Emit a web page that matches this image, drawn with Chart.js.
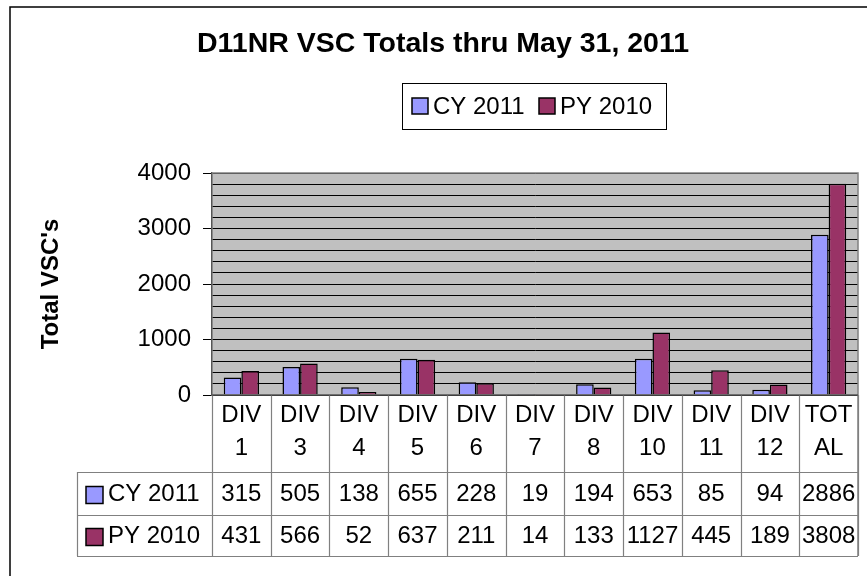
<!DOCTYPE html>
<html>
<head>
<meta charset="utf-8">
<script src="https://cdn.jsdelivr.net/npm/chart.js@4/dist/chart.umd.min.js"></script>
<style>
  body { margin: 0; background: #fff; }
  canvas { display: block; }
</style>
</head>
<body>
<canvas id="vsc" width="867" height="576"></canvas>
<script>
const categories = [['DIV', '1'], ['DIV', '3'], ['DIV', '4'], ['DIV', '5'], ['DIV', '6'], ['DIV', '7'],
  ['DIV', '8'], ['DIV', '10'], ['DIV', '11'], ['DIV', '12'], ['TOT', 'AL']]
const cy2011 = [315, 505, 138, 655, 228, 19, 194, 653, 85, 94, 2886]
const py2010 = [431, 566, 52, 637, 211, 14, 133, 1127, 445, 189, 3808]
const yTicks = [0, 1000, 2000, 3000, 4000]

const FONT = '"Liberation Sans", Arial, sans-serif'
const TABLE_LINE = '#808080'

// gray plot background
const backdrop = {
  id: 'backdrop',
  beforeDraw(chart) {
    const { ctx, chartArea: a } = chart
    ctx.save()
    ctx.fillStyle = '#fff'
    ctx.fillRect(0, 0, chart.width, chart.height)
    ctx.fillStyle = '#C0C0C0'
    ctx.fillRect(a.left, a.top, a.right - a.left, a.bottom - a.top)
    ctx.restore()
  }
}

// title, legend box and the data table under the axis
const extras = {
  id: 'extras',
  afterDraw(chart) {
    const { ctx, chartArea: a } = chart
    const x = chart.scales.x
    const sets = chart.data.datasets
    const colW = (a.right - a.left) / categories.length
    const rows = [a.bottom + 77, a.bottom + 120, a.bottom + 161]
    ctx.save()

    // outer frame (only left/top visible in the crop)
    ctx.strokeStyle = '#000'
    ctx.lineWidth = 1.5
    ctx.beginPath()
    ctx.moveTo(10, chart.height + 2)
    ctx.lineTo(10, 7)
    ctx.lineTo(chart.width + 2, 7)
    ctx.stroke()

    // title
    ctx.fillStyle = '#000'
    ctx.font = 'bold 28.5px ' + FONT
    ctx.textAlign = 'center'
    ctx.textBaseline = 'middle'
    ctx.fillText('D11NR VSC Totals thru May 31, 2011', 443, 44)

    // legend
    ctx.lineWidth = 1
    ctx.strokeStyle = '#000'
    ctx.strokeRect(402.5, 83.5, 264, 46)
    ctx.font = '24px ' + FONT
    ctx.textAlign = 'left'
    const legX = [412, 539]
    sets.forEach((ds, i) => {
      ctx.fillStyle = ds.backgroundColor
      ctx.fillRect(legX[i], 98, 16, 16)
      ctx.lineWidth = 1.5
      ctx.strokeRect(legX[i], 98, 16, 16)
      ctx.fillStyle = '#000'
      ctx.fillText(ds.label, legX[i] + 21, 107)
    })

    // plot frame top / right
    ctx.strokeStyle = TABLE_LINE
    ctx.lineWidth = 1.5
    ctx.beginPath()
    ctx.moveTo(a.left, a.top)
    ctx.lineTo(a.right, a.top)
    ctx.lineTo(a.right, rows[2])
    ctx.stroke()

    // table grid
    ctx.lineWidth = 1.2
    ctx.beginPath()
    for (let i = 0; i <= categories.length; i++) {
      const px = Math.round(a.left + i * colW) + 0.5
      ctx.moveTo(px, a.bottom)
      ctx.lineTo(px, rows[2])
    }
    rows.forEach(ry => {
      ctx.moveTo(77, ry + 0.5)
      ctx.lineTo(a.right, ry + 0.5)
    })
    ctx.moveTo(77.5, rows[0])
    ctx.lineTo(77.5, rows[2])
    ctx.stroke()

    // axis line on top of the table
    ctx.strokeStyle = '#555'
    ctx.lineWidth = 1.5
    ctx.beginPath()
    ctx.moveTo(a.left, a.bottom)
    ctx.lineTo(a.right, a.bottom)
    ctx.stroke()

    // rows: legend key + values
    ctx.font = '24px ' + FONT
    sets.forEach((ds, r) => {
      const mid = (rows[r] + rows[r + 1]) / 2 + 1
      ctx.fillStyle = ds.backgroundColor
      ctx.fillRect(86, mid - 8, 17, 17)
      ctx.strokeStyle = '#000'
      ctx.lineWidth = 1.5
      ctx.strokeRect(86, mid - 8, 17, 17)
      ctx.fillStyle = '#000'
      ctx.textAlign = 'left'
      ctx.fillText(ds.label, 108, mid)
      ctx.textAlign = 'center'
      ds.data.forEach((v, i) => {
        ctx.fillText(String(v), x.getPixelForValue(i), mid)
      })
    })
    ctx.restore()
  }
}

new Chart(document.getElementById('vsc'), {
  type: 'bar',
  data: {
    labels: categories,
    datasets: [
      {
        label: 'CY 2011',
        data: cy2011,
        backgroundColor: '#9999FF',
        borderColor: '#000',
        borderWidth: 1.5,
        categoryPercentage: 0.6,
        barPercentage: 1
      },
      {
        label: 'PY 2010',
        data: py2010,
        backgroundColor: '#993366',
        borderColor: '#000',
        borderWidth: 1.5,
        categoryPercentage: 0.6,
        barPercentage: 1
      }
    ]
  },
  options: {
    responsive: false,
    devicePixelRatio: 1,
    animation: false,
    layout: { padding: { left: 0, right: 9, top: 173, bottom: 20 } },
    plugins: {
      legend: { display: false },
      title: { display: false },
      tooltip: { enabled: false }
    },
    scales: {
      x: {
        afterFit(scale) { scale.height = 161 },
        grid: { display: false },
        border: { display: false },
        ticks: {
          autoSkip: false,
          maxRotation: 0,
          color: '#000',
          padding: -4,
          font: { family: FONT, size: 24, lineHeight: 1.38 }
        }
      },
      y: {
        min: yTicks[0],
        max: yTicks[yTicks.length - 1],
        afterFit(scale) { scale.width = 212 },
        ticks: {
          stepSize: 200,
          autoSkip: false,
          color: '#000',
          padding: 12,
          font: { family: FONT, size: 24 },
          callback: v => (yTicks.includes(v) ? v : '')
        },
        grid: {
          color: '#000',
          lineWidth: 1,
          tickLength: 9,
          tickColor: c => (c.tick && yTicks.includes(c.tick.value) ? '#000' : 'rgba(0,0,0,0)')
        },
        border: { display: true, color: '#555', width: 1.5 },
        title: {
          display: true,
          text: "Total VSC's",
          color: '#000',
          font: { family: FONT, size: 24, weight: 'bold' },
          padding: { top: 37, bottom: 0 }
        }
      }
    }
  },
  plugins: [backdrop, extras]
})
</script>
</body>
</html>
